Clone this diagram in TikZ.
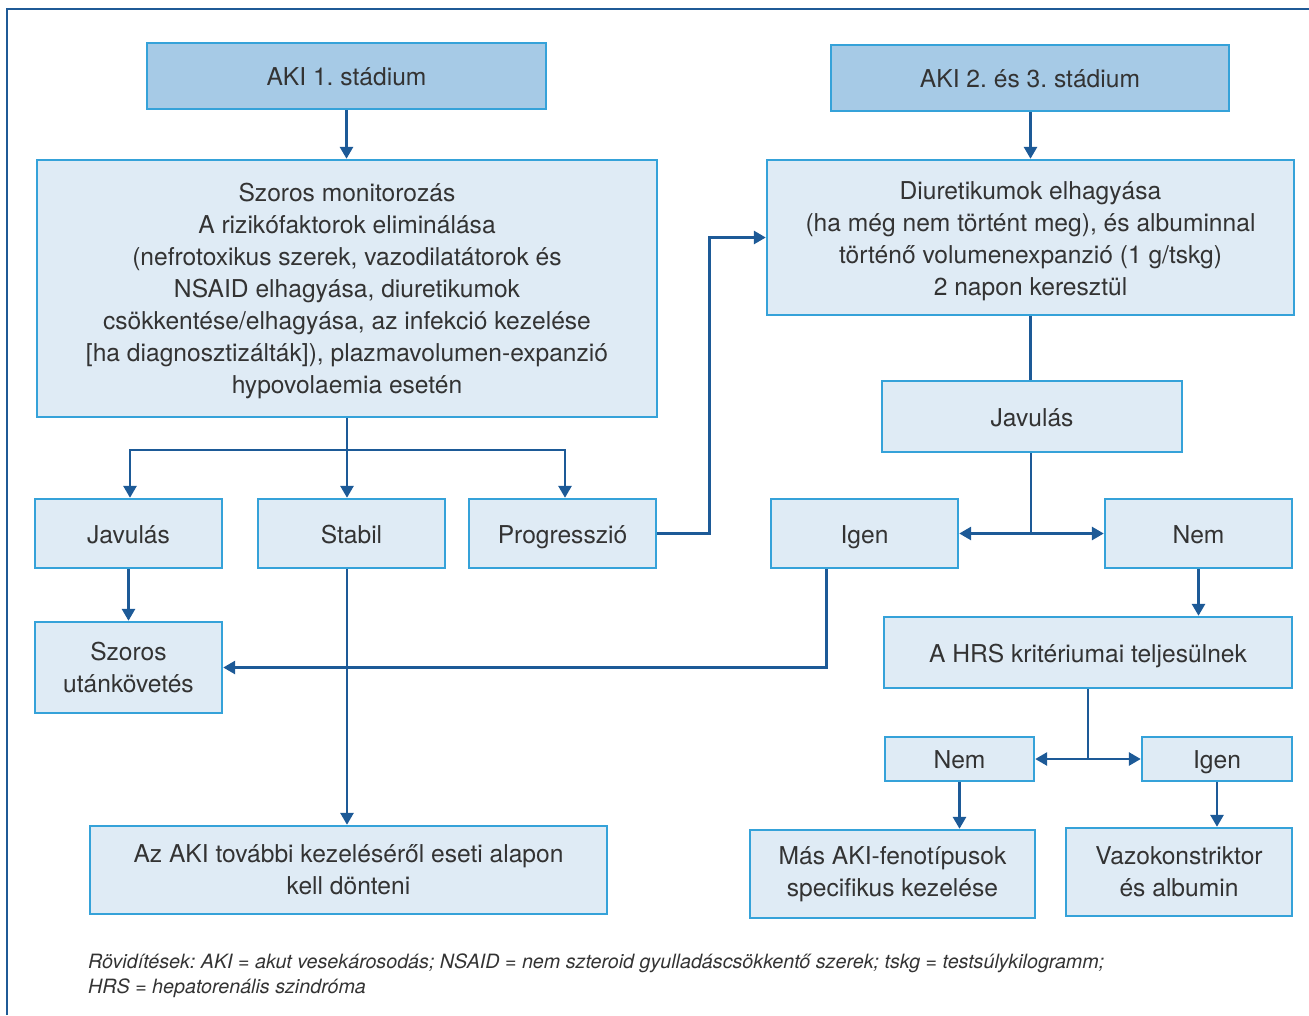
\documentclass[tikz,border=0pt]{standalone}
\usepackage{fontspec}
\setmainfont{TeX Gyre Heros}
\usetikzlibrary{arrows.meta}
\definecolor{frameblue}{HTML}{1F5A96}
\definecolor{arrowblue}{HTML}{1D5A97}
\definecolor{boxborder}{HTML}{35A2D9}
\definecolor{boxfill}{HTML}{DFEBF5}
\definecolor{headfill}{HTML}{A6CAE6}
\definecolor{txt}{HTML}{333333}
\tikzset{
  box/.style={draw=boxborder, line width=2.4pt, fill=boxfill, align=center, inner sep=0pt,
    font=\frenchspacing\fontsize{24.6}{32}\selectfont, text=txt},
  one/.style={box, text height=24pt, text depth=4.4pt},
  headbox/.style={one, fill=headfill},
  arr/.style={draw=arrowblue, line width=2.8pt, -{Triangle[length=12pt,width=13pt]}},
  ln/.style={draw=arrowblue, line width=2.8pt},
  foot/.style={anchor=base west, inner sep=0pt, text=txt, font=\frenchspacing\fontsize{19.7}{22}\selectfont\itshape},
}
\begin{document}
\frenchspacing
\begin{tikzpicture}[x=1pt,y=-1pt]
\useasboundingbox (0,0) rectangle (1309,1015);
\draw[frameblue, line width=2.5pt] (7,1015) -- (7,9) -- (1309,9);

\node[headbox, minimum width=399pt, minimum height=66pt] (aki1) at (346.5,76) {AKI 1. stádium};
\node[headbox, minimum width=398pt, minimum height=66pt] (aki23) at (1030,78) {AKI 2. és 3. stádium};

\node[box, minimum width=620pt, minimum height=257pt] (mon) at (347,288.5) {\rule{0pt}{4pt}\\[-12pt]Szoros monitorozás\\A rizikófaktorok eliminálása\\(nefrotoxikus szerek, vazodilatátorok és\\NSAID elhagyása, diuretikumok\\csökkentése/elhagyása, az infekció kezelése\\{[ha diagnosztizálták]}), plazmavolumen-expanzió\\hypovolaemia esetén};
\node[box, minimum width=527pt, minimum height=155pt] (diu) at (1030.5,237.5) {\rule{0pt}{4pt}\\[-10pt]Diuretikumok elhagyása\\(ha még nem történt meg), és albuminnal\\történő volumenexpanzió (1 g/tskg)\\2 napon keresztül};

\node[one, minimum width=300pt, minimum height=71pt] (javR) at (1032,416.5) {Javulás};

\node[one, minimum width=187pt, minimum height=69pt] (javL) at (128.5,533.5) {Javulás};
\node[one, minimum width=187pt, minimum height=69pt] (stab) at (351.5,533.5) {Stabil};
\node[one, minimum width=187pt, minimum height=69pt] (prog) at (562.5,533.5) {Progresszió};
\node[one, minimum width=187pt, minimum height=69pt] (igen) at (864.5,533.5) {Igen};
\node[one, minimum width=187pt, minimum height=69pt] (nem) at (1198.5,533.5) {Nem};

\node[box, minimum width=187pt, minimum height=91pt] (szor) at (128.5,667.5) {Szoros\\utánkövetés};
\node[one, minimum width=408pt, minimum height=71pt] (hrs) at (1088,652.5) {A HRS kritériumai teljesülnek};

\node[one, minimum width=149pt, minimum height=44pt] (nem2) at (959.5,759) {Nem};
\node[one, minimum width=150pt, minimum height=44pt] (igen2) at (1217,759) {Igen};

\node[box, minimum width=285pt, minimum height=88pt] (mas) at (892.5,874) {Más AKI-fenotípusok\\specifikus kezelése};
\node[box, minimum width=226pt, minimum height=88pt] (vazo) at (1179,872) {Vazokonstriktor\\és albumin};
\node[box, minimum width=517pt, minimum height=88pt] (tov) at (348.5,870) {Az AKI további kezeléséről eseti alapon\\kell dönteni};

\node[foot] (foot1) at (88,968) {Rövidítések: AKI = akut vesekárosodás; NSAID = nem szteroid gyulladáscsökkentő szerek; tskg = testsúlykilogramm;};
\node[foot] (foot2) at (88,993) {HRS = hepatorenális szindróma};

% connectors
\draw[arr] (aki1.south) -- (aki1.south |- mon.north);
\draw[arr] (aki23.south -| diu.north) -- (diu.north);
\coordinate (b1) at (347,450);
\draw[arr] (mon.south) -- (stab.north -| mon.south);
\draw[arr] (b1) -| ([xshift=1.5pt]javL.north);
\draw[arr] (b1) -| ([xshift=2.5pt]prog.north);
\draw[arr] (prog.east) -- ++(52,0) |- (diu.west);
\draw[ln] (diu.south) -- (javR.north -| diu.south);
\coordinate (b2) at (1031,533.5);
\draw[ln] (javR.south -| b2) -- (b2);
\draw[arr] (b2) -- (igen.east);
\draw[arr] (b2) -- (nem.west);
\draw[arr] (javL.south) -- (szor.north);
\draw[arr] ([xshift=-38pt]igen.south) |- (szor.east);
\draw[arr] (stab.south -| mon.south) -- (tov.north -| mon.south);
\draw[arr] (nem.south) -- (nem.south |- hrs.north);
\coordinate (b3) at (1088,759);
\draw[ln] (hrs.south) -- (b3);
\draw[arr] (b3) -- (nem2.east);
\draw[arr] (b3) -- (igen2.west);
\draw[arr] (nem2.south) -- (nem2.south |- mas.north);
\draw[arr] (igen2.south) -- (igen2.south |- vazo.north);
\end{tikzpicture}
\end{document}
